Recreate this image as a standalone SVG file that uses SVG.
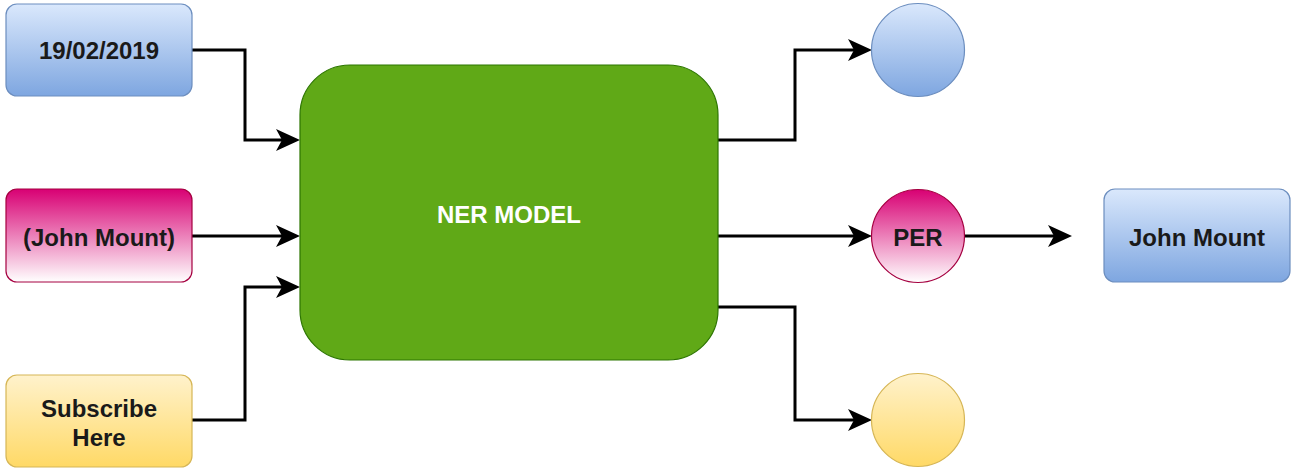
<svg xmlns="http://www.w3.org/2000/svg" width="1291" height="470" viewBox="0 0 1291 470">
  <style>
    .lbl { font-family: "Liberation Sans", Arial, sans-serif; font-weight: bold; font-size: 24px; fill: #1a1a1a; text-anchor: middle; dominant-baseline: central; }
    .white { fill: #ffffff; }
    .edge { fill: none; stroke: #000000; stroke-width: 3; marker-end: url(#arrow); }
    .blue { fill: url(#gBlue); stroke: #6c8ebf; stroke-width: 1.2; }
    .pink { fill: url(#gPink); stroke: #a50040; stroke-width: 1.2; }
    .yellow { fill: url(#gYellow); stroke: #d6b656; stroke-width: 1.2; }
    .green { fill: #60a917; stroke: #2d7600; stroke-width: 1.2; }
  </style>
  <defs>
    <linearGradient id="gBlue" x1="0" y1="0" x2="0" y2="1">
      <stop offset="0" stop-color="#dae8fc"/>
      <stop offset="1" stop-color="#7ea6e0"/>
    </linearGradient>
    <linearGradient id="gPink" x1="0" y1="0" x2="0" y2="1">
      <stop offset="0" stop-color="#d80073"/>
      <stop offset="1" stop-color="#ffffff"/>
    </linearGradient>
    <linearGradient id="gYellow" x1="0" y1="0" x2="0" y2="1">
      <stop offset="0" stop-color="#fff2cc"/>
      <stop offset="1" stop-color="#ffd966"/>
    </linearGradient>
    <marker id="arrow" markerUnits="userSpaceOnUse" markerWidth="24" markerHeight="22" refX="18" refY="11" orient="auto">
      <path d="M0,0 L24,11 L0,22 L6,11 Z" fill="#000000"/>
    </marker>
  </defs>

  <g id="connectors">
    <path class="edge" d="M192,50 H245 V140 H294"/>
    <path class="edge" d="M192,236 H294"/>
    <path class="edge" d="M192,420 H245 V287 H294"/>
    <path class="edge" d="M718,140 H795 V50 H866"/>
    <path class="edge" d="M718,236 H866"/>
    <path class="edge" d="M718,307 H795 V420 H866"/>
    <path class="edge" d="M965,236 H1066"/>
  </g>

  <g id="date">
    <rect class="blue" x="6" y="4" width="186" height="92" rx="11"/>
    <text class="lbl" x="99" y="50">19/02/2019</text>
  </g>
  <g id="name-input">
    <rect class="pink" x="6" y="189" width="186" height="93" rx="11"/>
    <text class="lbl" x="99" y="237">(John Mount)</text>
  </g>
  <g id="subscribe">
    <rect class="yellow" x="6" y="375" width="186" height="92" rx="11"/>
    <text class="lbl" x="99" y="408">Subscribe</text>
    <text class="lbl" x="99" y="437">Here</text>
  </g>

  <g id="ner-model">
    <rect class="green" x="300" y="65" width="418" height="295" rx="50"/>
    <text class="lbl white" x="509" y="214">NER MODEL</text>
  </g>

  <g id="entity-blue">
    <circle class="blue" cx="918" cy="50" r="46.5"/>
  </g>
  <g id="entity-per">
    <circle class="pink" cx="918" cy="236" r="46.5"/>
    <text class="lbl" x="918" y="237">PER</text>
  </g>
  <g id="entity-yellow">
    <circle class="yellow" cx="918" cy="420" r="46.5"/>
  </g>

  <g id="result">
    <rect class="blue" x="1104" y="189" width="186" height="93" rx="11"/>
    <text class="lbl" x="1197" y="237">John Mount</text>
  </g>
</svg>
